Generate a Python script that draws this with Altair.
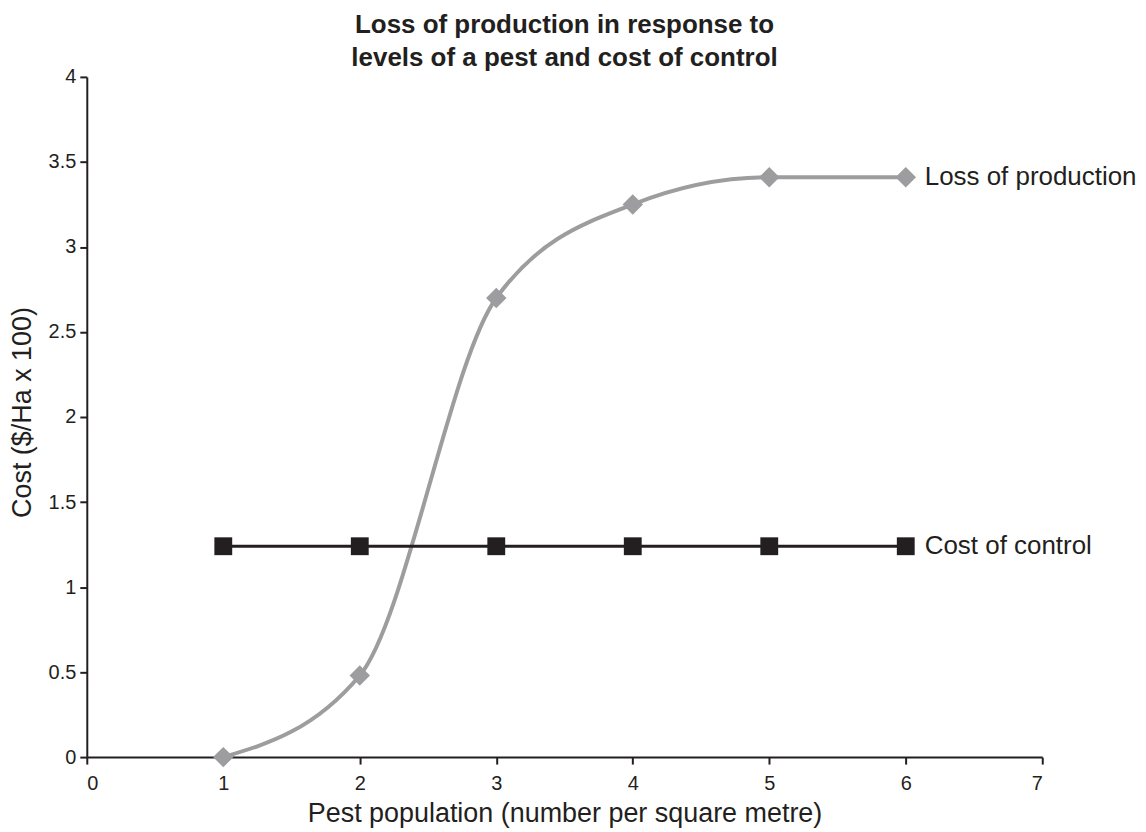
import altair as alt
import pandas as pd

pest = [1, 2, 3, 4, 5, 6]
loss = [0.0, 0.48, 2.70, 3.25, 3.41, 3.41]
control = [1.24, 1.24, 1.24, 1.24, 1.24, 1.24]

x_ticks = [0, 1, 2, 3, 4, 5, 6, 7]
y_ticks = [0, 0.5, 1, 1.5, 2, 2.5, 3, 3.5, 4]

df_loss = pd.DataFrame({"x": pest, "y": loss})
df_ctrl = pd.DataFrame({"x": pest, "y": control})
labels = pd.DataFrame({"x": [pest[-1], pest[-1]], "y": [loss[-1], control[-1]],
                       "t": ["Loss of production", "Cost of control"]})

FONT = "Liberation Sans"
INK = "#231f20"
GREY = "#9d9d9f"

xs = alt.Scale(domain=[0, 7], nice=False, zero=False)
ys = alt.Scale(domain=[0, 4], nice=False)

xax = alt.Axis(values=x_ticks, format="d", grid=False, domainColor=INK, domainWidth=2,
               tickColor=INK, tickWidth=2, tickSize=7, labelFont=FONT, labelFontSize=20,
               labelColor=INK, labelPadding=9, title="Pest population (number per square metre)",
               titleFont=FONT, titleFontSize=27, titleFontWeight="normal", titleColor=INK,
               titlePadding=8)
yax = alt.Axis(values=y_ticks, format=".1~f", grid=False, domainColor=INK, domainWidth=2,
               tickColor=INK, tickWidth=2, tickSize=7, labelFont=FONT, labelFontSize=20,
               labelColor=INK, labelPadding=4, title="Cost ($/Ha x 100)",
               titleFont=FONT, titleFontSize=27, titleFontWeight="normal", titleColor=INK,
               titlePadding=12, titleY=336)

loss_line = alt.Chart(df_loss).mark_line(color=GREY, strokeWidth=4, interpolate="monotone").encode(
    x=alt.X("x:Q", scale=xs, axis=xax), y=alt.Y("y:Q", scale=ys, axis=yax))
loss_pts = alt.Chart(df_loss).mark_point(shape="diamond", filled=True, color=GREY, size=420, opacity=1).encode(
    x=alt.X("x:Q", scale=xs), y=alt.Y("y:Q", scale=ys))
ctrl_line = alt.Chart(df_ctrl).mark_line(color=INK, strokeWidth=3).encode(
    x=alt.X("x:Q", scale=xs), y=alt.Y("y:Q", scale=ys))
ctrl_pts = alt.Chart(df_ctrl).mark_point(shape="square", filled=True, color=INK, size=320, opacity=1).encode(
    x=alt.X("x:Q", scale=xs), y=alt.Y("y:Q", scale=ys))
text = alt.Chart(labels).mark_text(align="left", baseline="middle", dx=19, font=FONT, fontSize=26,
                                   color=INK).encode(
    x=alt.X("x:Q", scale=xs), y=alt.Y("y:Q", scale=ys), text="t:N")

chart = alt.layer(loss_line, ctrl_line, loss_pts, ctrl_pts, text).properties(
    width=958, height=682,
    background="white",
    title=alt.TitleParams(["Loss of production in response to", "levels of a pest and cost of control"],
                          font=FONT, fontSize=26, fontWeight="bold", color=INK, anchor="middle",
                          lineHeight=33, offset=-4),
    autosize=alt.AutoSizeParams(type="none"),
    padding={"left": 79, "top": 68, "right": 96, "bottom": 72},
).configure_view(stroke=None)

chart.save("out.html", embed_options={"renderer": "svg", "actions": False})
